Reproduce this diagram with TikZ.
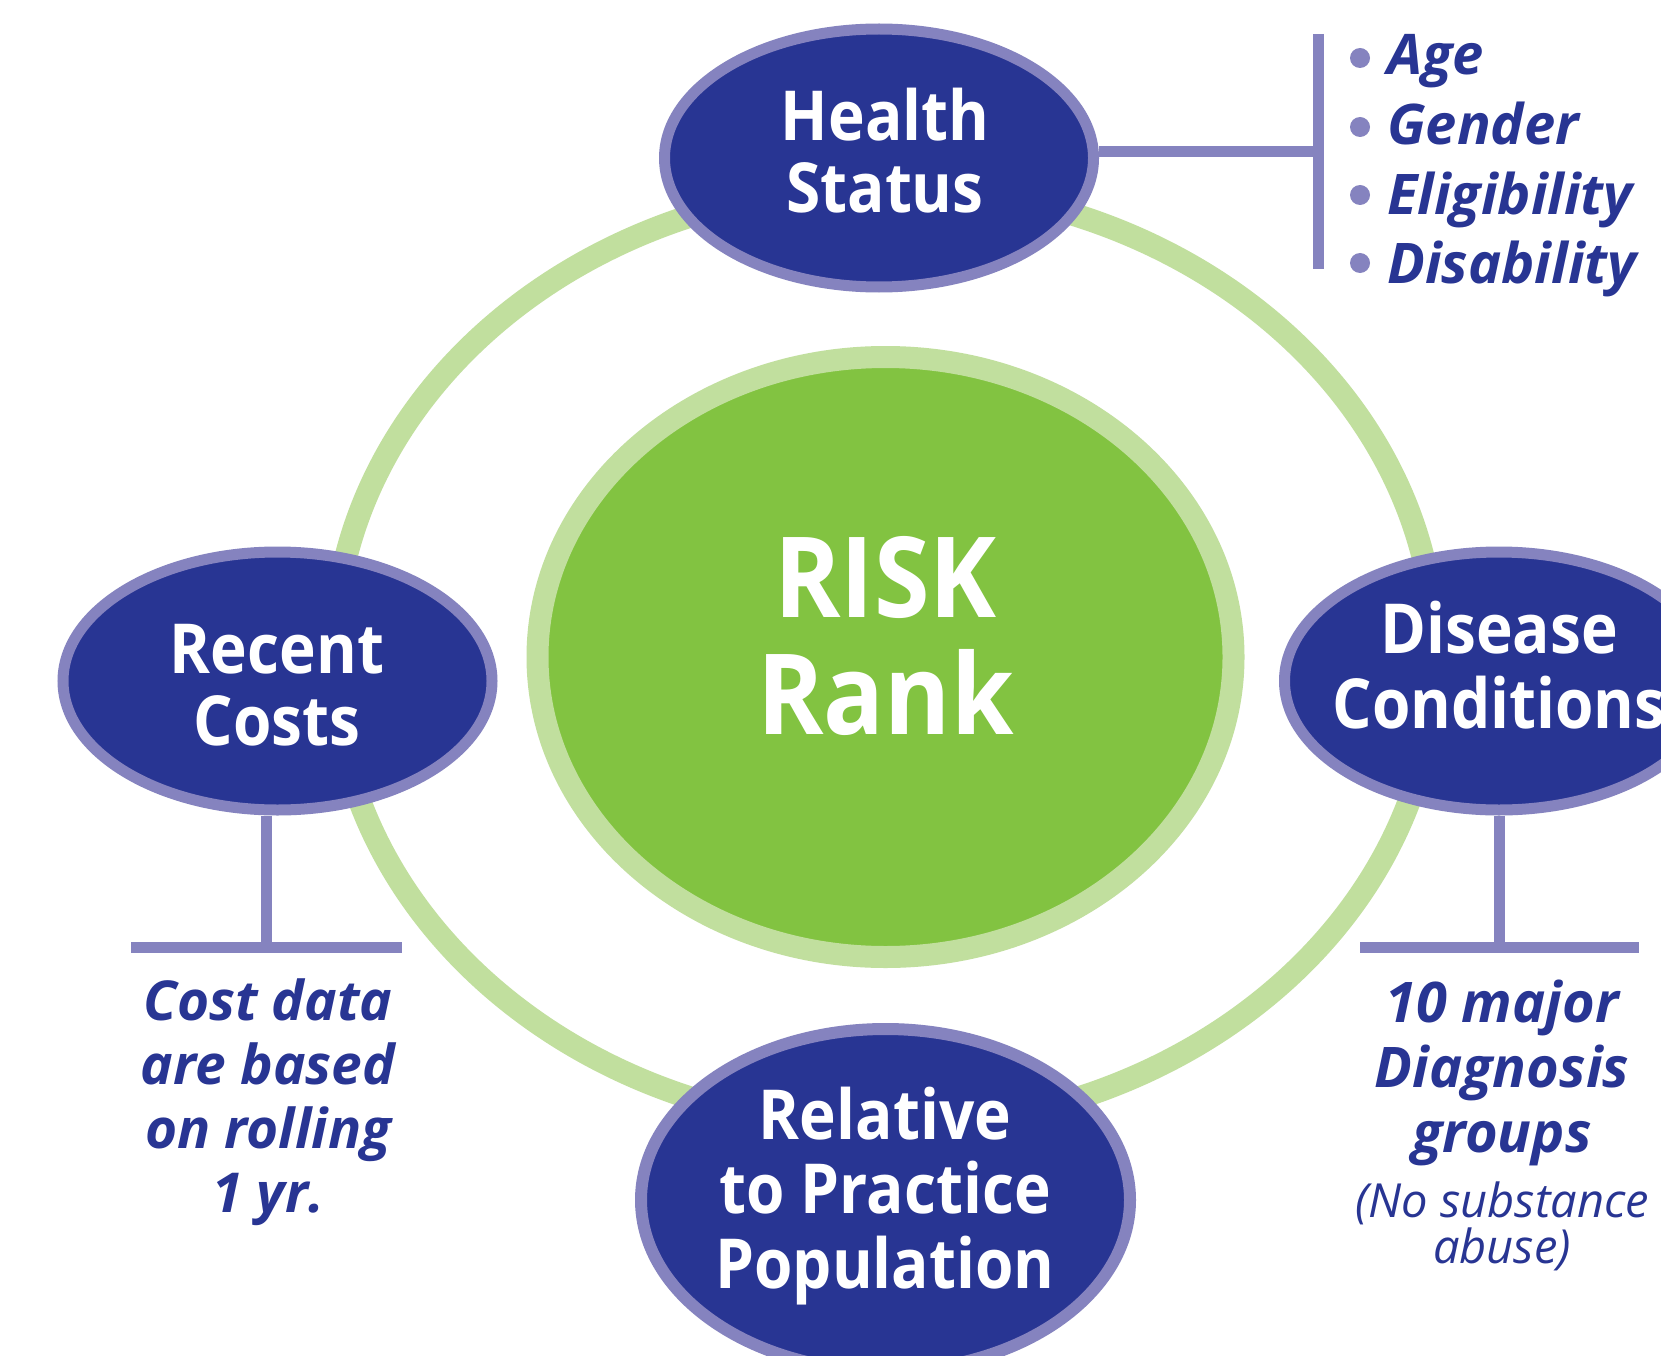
\documentclass[tikz,border=0pt]{standalone}
\usepackage{fontspec}
\setmainfont{Open Sans}
\newfontfamily\narrowfont{Open Sans}[FakeStretch=0.9]
\usetikzlibrary{shapes.geometric}
\definecolor{navy}{HTML}{283593}
\definecolor{lav}{HTML}{8583BF}
\definecolor{ringgreen}{HTML}{C1DF9E}
\definecolor{riskgreen}{HTML}{82C341}
\begin{document}
\begin{tikzpicture}[x=1pt,y=-1pt,
  blob/.style={ellipse, draw=lav, fill=navy, line width=11pt,
    minimum width=429pt, minimum height=258pt, inner sep=0pt},
  blobtext/.style={text=white, font=\narrowfont\fontsize{69}{72}\selectfont\bfseries,
    align=center, anchor=base, inner sep=0pt},
  note/.style={text=navy, font=\fontsize{55}{64}\selectfont\bfseries\itshape,
    align=center, anchor=base, inner sep=0pt},
  subnote/.style={text=navy, font=\fontsize{47}{46}\selectfont\itshape,
    align=center, anchor=base, inner sep=0pt},
  item/.style={text=navy, font=\fontsize{56}{60}\selectfont\bfseries\itshape,
    anchor=base west, inner sep=0pt},
  dot/.style={circle, fill=lav, minimum size=20pt, inner sep=0pt},
  conn/.style={draw=lav, line width=11pt}]
\clip (0,0) rectangle (1661,1356);
\fill[white] (0,0) rectangle (1661,1356);

% outer ring
\draw[ringgreen, line width=23pt] (884.5,657) ellipse [x radius=551, y radius=471];

% central risk ellipse
\node[ellipse, draw=ringgreen, fill=riskgreen, line width=22pt,
  minimum width=696pt, minimum height=600pt, inner sep=0pt] (risk) at (885.5,657) {};
\node[text=white, font=\narrowfont\fontsize{112}{116.5}\selectfont\bfseries, align=center,
  anchor=base, inner sep=0pt] (risktext) at (885.5,734) {RISK\\Rank};

% factor ellipses
\node[blob] (health) at (879,158) {};
\node[blob] (recent) at (277.5,681) {};
\node[blob] (disease) at (1499,681) {};
\node[blob, line width=12pt, minimum width=489pt, minimum height=342pt] (relative) at (885.5,1200) {};

\node[blobtext] (healthtext) at (885,213) {Health\\Status};
\node[blobtext] (recenttext) at (277,745) {Recent\\Costs};
\node[blobtext, font=\narrowfont\fontsize{69}{75}\selectfont\bfseries] (diseasetext) at (1499,728) {Disease\\Conditions};
\node[blobtext, font=\narrowfont\fontsize{69}{74.5}\selectfont\bfseries] (relativetext) at (885,1288) {Relative\\to Practice\\Population};

% health status bracket
\coordinate (hjoin) at (1318,152);
\coordinate (htop) at (1318,34);
\coordinate (hbot) at (1318,269);
\draw[conn] (hjoin -| health.east) -- (hjoin);
\draw[conn] (htop) -- (hbot);
\node[dot] (d1) at (1360,58) {};
\node[dot] (d2) at (1360,127) {};
\node[dot] (d3) at (1360,195) {};
\node[dot] (d4) at (1360,263) {};
\node[item] (age) at (1387,75) {Age};
\node[item] (gender) at (1387,145) {Gender};
\node[item] (elig) at (1387,215) {Eligibility};
\node[item] (disab) at (1387,283) {Disability};

% recent costs bracket
\coordinate (rjoin) at (266.5,947);
\coordinate (rleft) at (131,947);
\coordinate (rright) at (402,947);
\draw[conn] (rjoin |- recent.south) -- (rjoin);
\draw[conn] (rleft) -- (rright);
\node[note] (costnote) at (268,1212) {Cost data\\are based\\on rolling\\1 yr.};

% disease bracket
\coordinate (djoin) at (1499,947);
\coordinate (dleft) at (1360,947);
\coordinate (dright) at (1639,947);
\draw[conn] (disease.south) -- (djoin);
\draw[conn] (dleft) -- (dright);
\node[note, font=\fontsize{56}{65}\selectfont\bfseries\itshape] (dxnote) at (1502,1152) {10 major\\Diagnosis\\groups};
\node[subnote] (subst) at (1502,1263) {(No substance\\abuse)};
\end{tikzpicture}
\end{document}
